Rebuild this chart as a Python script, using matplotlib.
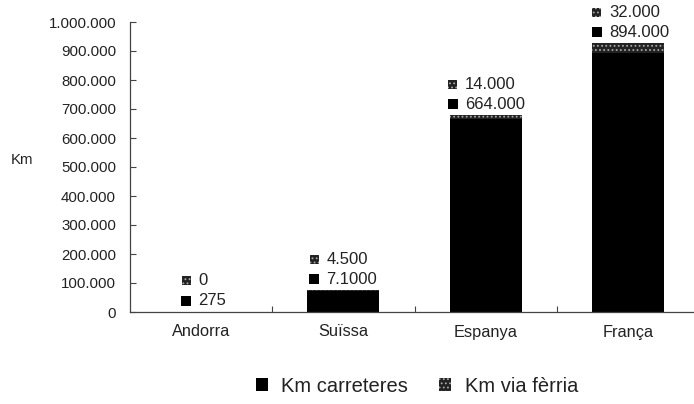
import matplotlib
matplotlib.use("Agg")
import matplotlib.pyplot as plt
from matplotlib.patches import Patch
from matplotlib.ticker import FuncFormatter, FixedLocator
import matplotlib.transforms as mtransforms

plt.rcParams['font.family'] = ['Liberation Sans', 'DejaVu Sans']
plt.rcParams['hatch.linewidth'] = 0.8

# ---- data ----
countries = ["Andorra", "Suïssa", "Espanya", "França"]
km_carreteres = [275, 71000, 664000, 894000]
km_via_ferria = [0, 4500, 14000, 32000]
label_carreteres = ["275", "7.1000", "664.000", "894.000"]
label_via_ferria = ["0", "4.500", "14.000", "32.000"]
series_names = ["Km carreteres", "Km via fèrria"]
y_ticks = [0, 100000, 200000, 300000, 400000, 500000, 600000, 700000, 800000, 900000, 1000000]

# ---- layout ----
label_x_offsets_px = [-15, -29, -33, -31]   # marker-centre offset from bar centre

fig = plt.figure(figsize=(6.94, 4.04), dpi=100)
ax = fig.add_axes([130/694, 1 - 312/404, 569/694, 290/404])

road_col = "#000000"
rail_face = "#222222"
rail_hatch = "#a8a8a8"

x = list(range(len(countries)))
ax.bar(x, km_carreteres, width=0.505, color=road_col, linewidth=0)
ax.bar(x, km_via_ferria, width=0.505, bottom=km_carreteres, facecolor=rail_face,
       edgecolor=rail_hatch, hatch="....", linewidth=0)

ax.set_xlim(-0.5, 3.5)
ax.set_ylim(0, 1000000)

ax.yaxis.set_major_locator(FixedLocator(y_ticks))
ax.yaxis.set_major_formatter(FuncFormatter(lambda v, p: f"{int(v):,}".replace(",", ".")))
ax.set_xticks(x)
ax.set_xticklabels(countries, fontsize=11.8, color="#222222")
ax.set_xticks([0.5, 1.5, 2.5], minor=True)
ax.tick_params(axis="x", which="major", length=0, pad=9)
ax.tick_params(axis="x", which="minor", direction="in", length=4, width=0.8, color="#444444")
ax.tick_params(axis="y", direction="in", length=4, width=0.8, labelsize=10.8,
               labelcolor="#222222", color="#444444", pad=10)

for s in ["top", "right"]:
    ax.spines[s].set_visible(False)
for s in ["left", "bottom"]:
    ax.spines[s].set_color("#444444")
    ax.spines[s].set_linewidth(0.9)

ax.set_ylabel("Km", rotation=0, fontsize=10.8, color="#222222")
ax.yaxis.set_label_coords(-0.19, 0.5)

# value labels above the stacks
for i in x:
    top = km_carreteres[i] + km_via_ferria[i]
    for k, (txt, dy) in enumerate([(label_carreteres[i], 11), (label_via_ferria[i], 31)]):
        tr = mtransforms.offset_copy(ax.transData, fig=fig,
                                     x=label_x_offsets_px[i], y=dy, units="dots")
        if k == 0:
            ax.scatter([i], [top], marker="s", s=50, color=road_col, transform=tr,
                       linewidths=0, clip_on=False, zorder=3)
        else:
            ax.scatter([i], [top], marker="s", s=42, facecolor=rail_face, edgecolor=rail_hatch,
                       hatch="....", linewidths=0, transform=tr, clip_on=False, zorder=3)
        ttr = mtransforms.offset_copy(ax.transData, fig=fig,
                                      x=label_x_offsets_px[i] + 12, y=dy, units="dots")
        ax.text(i, top, txt, transform=ttr, ha="left", va="center", fontsize=12,
                color="#222222", clip_on=False)

handles = [Patch(facecolor=road_col, linewidth=0),
           Patch(facecolor=rail_face, edgecolor=rail_hatch, hatch="....", linewidth=0)]
fig.legend(handles, series_names, loc="center", bbox_to_anchor=(417/694, 1 - 386/404),
           ncol=2, frameon=False, fontsize=14.5, handlelength=0.6, handleheight=0.6,
           handletextpad=0.65, columnspacing=1.55, labelcolor="#222222")

fig.savefig("out.png", dpi=100)
